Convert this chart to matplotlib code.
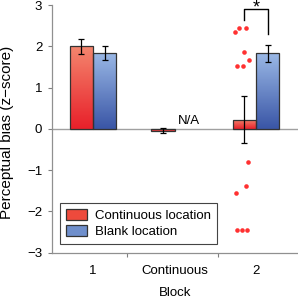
import numpy as np
import matplotlib
matplotlib.use("Agg")
import matplotlib.pyplot as plt
from matplotlib.colors import LinearSegmentedColormap
from matplotlib.patches import Patch

plt.rcParams['font.family'] = ['Liberation Sans', 'DejaVu Sans']
plt.rcParams['font.size'] = 9.5

# values
blocks = ['1', 'Continuous', '2']
cont_mean = [2.0, -0.05, 0.22]
cont_err = [0.18, 0.06, 0.57]
blank_mean = [1.85, np.nan, 1.83]
blank_err = [0.17, np.nan, 0.20]

# individual subjects, block 2 continuous location
subj_y = [2.44, 2.44, 2.34, 1.87, 1.67, 1.52, 1.52, -0.81, -1.38, -1.55, -2.46, -2.46, -2.46]
subj_jitter = [-0.209, -0.126, -0.258, -0.144, -0.082, -0.229, -0.156,
               -0.094, -0.126, -0.245, -0.229, -0.168, -0.107]

red_cmap = LinearSegmentedColormap.from_list('r', ['#e8202a', '#f4866e'])
blue_cmap = LinearSegmentedColormap.from_list('b', ['#3a56a6', '#9ab8e6'])

fig = plt.figure(figsize=(2.98, 3.0), dpi=100)
ax = fig.add_axes([0.1745, 0.158, 0.8255, 0.825])

x = np.arange(len(blocks))
w = 0.285
grad = np.linspace(0, 1, 64).reshape(-1, 1)


def grad_bars(xs, vals, errs, cmap):
    bars = ax.bar(xs, vals, w, facecolor='none', edgecolor='#333333', linewidth=0.9, zorder=3)
    for b in bars:
        h = b.get_height()
        if np.isnan(h):
            continue
        x0, y0 = b.get_x(), b.get_y()
        lo, hi = min(y0, y0 + h), max(y0, y0 + h)
        img = grad if h >= 0 else grad[::-1]
        if abs(h) < 0.1:
            img = np.full_like(grad, 0.25)
        im = ax.imshow(img, extent=[x0, x0 + w, lo, hi], origin='lower', cmap=cmap,
                       vmin=0, vmax=1, aspect='auto', zorder=2)
        im.set_clip_path(b)
    ax.errorbar(xs, vals, yerr=errs, fmt='none', ecolor='black', elinewidth=0.9,
                capsize=2, capthick=0.9, zorder=4)


grad_bars(x - w / 2, cont_mean, cont_err, red_cmap)
grad_bars(x + w / 2, blank_mean, blank_err, blue_cmap)

ax.axhline(0, color='#a0a0a0', linewidth=1, zorder=1)

ax.plot(2 + np.array(subj_jitter), subj_y, 'o', color='#ff1a1a', markersize=3.3,
        markeredgewidth=0, alpha=0.9, zorder=5)

ax.text(1.18, 0.18, 'N/A', ha='center', va='center', fontsize=9.5)

# significance bracket
bx0, bx1 = 2 - w / 2, 2 + w / 2
ax.plot([bx0, bx0, bx1, bx1], [2.63, 2.90, 2.90, 2.30], color='black', linewidth=1,
        clip_on=False, zorder=5)
ax.text(2.0, 3.14, '*', ha='center', va='top', fontsize=13, clip_on=False)

ax.set_xlim(-0.503, 2.515)
ax.set_ylim(-3, 3)
ax.set_yticks([-3, -2, -1, 0, 1, 2, 3])
ax.set_yticklabels(['\u22123', '\u22122', '\u22121', '0', '1', '2', '3'])
ax.set_xticks(x)
ax.set_xticklabels(blocks)
ax.set_xticks([0.42, 1.53], minor=True)
ax.tick_params(axis='x', which='major', length=0, pad=9)
ax.tick_params(axis='x', which='minor', length=3, color='#808080', width=0.8)
ax.tick_params(axis='y', length=3, color='#808080', width=0.8, pad=4)

for s in ['top', 'right']:
    ax.spines[s].set_visible(False)
for s in ['left', 'bottom']:
    ax.spines[s].set_color('#909090')
    ax.spines[s].set_linewidth(0.9)

ax.set_ylabel('Perceptual bias (z\u2212score)', fontsize=11)
ax.yaxis.set_label_coords(-0.155, 0.485)
ax.set_xlabel('Block', labelpad=7)

handles = [Patch(facecolor='#ee4a3c', edgecolor='#333333', linewidth=0.9),
           Patch(facecolor='#6f8fcc', edgecolor='#333333', linewidth=0.9)]
leg = ax.legend(handles, ['Continuous location', 'Blank location'], loc='lower left',
                bbox_to_anchor=(0.033, 0.035), borderaxespad=0, fancybox=False,
                edgecolor='#444444', framealpha=1, handlelength=1.6, handleheight=0.9,
                handletextpad=0.6, labelspacing=0.25, borderpad=0.45)
leg.get_frame().set_linewidth(0.8)

fig.savefig('out.png', dpi=100)
